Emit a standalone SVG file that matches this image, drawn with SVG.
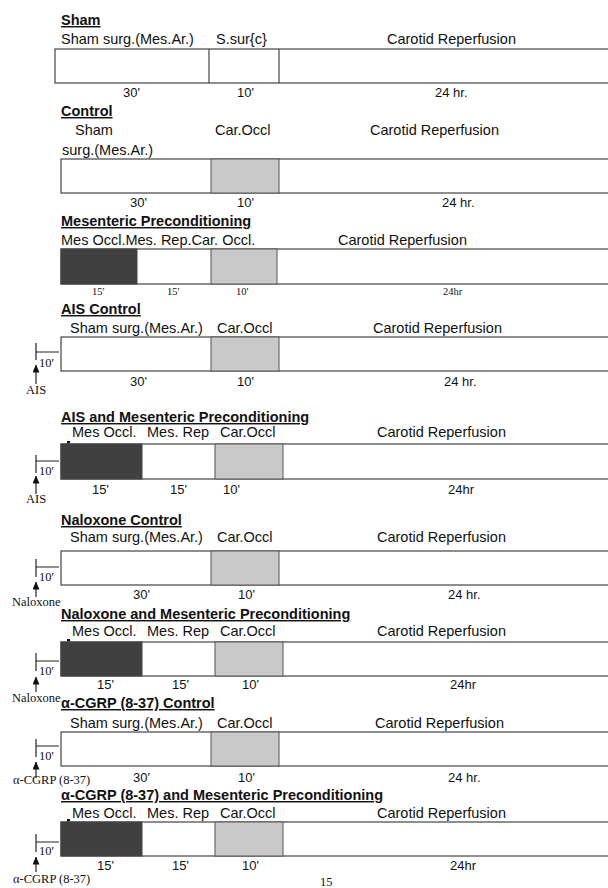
<svg xmlns="http://www.w3.org/2000/svg" width="608" height="888" viewBox="0 0 608 888">
<defs>
<style>
text{fill:#111}
.t{font-family:"Liberation Sans",Arial,sans-serif;font-weight:bold;font-size:14.5px;text-decoration:underline}
.l{font-family:"Liberation Sans",Arial,sans-serif;font-size:14.5px}
.d{font-family:"Liberation Sans",Arial,sans-serif;font-size:13px}
.s{font-family:"Liberation Serif","Times New Roman",serif;font-size:10.5px}
.r{font-family:"Liberation Serif","Times New Roman",serif;font-size:12.5px}
.box{fill:#fff;stroke:#444;stroke-width:1.2}
.dk{fill:#404040;stroke:#444;stroke-width:1}
.gr{fill:#c9c9c9;stroke:#555;stroke-width:1}
.dv{stroke:#444;stroke-width:1.2}
.tk{stroke:#222;stroke-width:1.2;fill:none}
.ar{stroke:#222;stroke-width:1.2;fill:none}
</style>
<marker id="ah" markerWidth="8" markerHeight="7" refX="7.5" refY="3.5" orient="auto" markerUnits="userSpaceOnUse" viewBox="0 0 8 7">
<path d="M0,0 L8,3.5 L0,7 Z" fill="#111"/>
</marker>
</defs>
<rect width="608" height="888" fill="#fff"/>

<g id="sham">
<text class="t" x="61" y="25">Sham</text>
<text class="l" x="61" y="44">Sham surg.(Mes.Ar.)</text>
<text class="l" x="216" y="44">S.sur{c}</text>
<text class="l" x="387" y="44">Carotid Reperfusion</text>
<rect class="box" x="55" y="49" width="560" height="34"/>
<line class="dv" x1="209" y1="49" x2="209" y2="83"/>
<line class="dv" x1="279" y1="49" x2="279" y2="83"/>
<text class="d" x="123" y="97">30'</text>
<text class="d" x="237" y="97">10'</text>
<text class="d" x="435" y="97">24 hr.</text>
</g>

<g id="control">
<text class="t" x="61" y="116">Control</text>
<text class="l" x="75" y="135">Sham</text>
<text class="l" x="62" y="155">surg.(Mes.Ar.)</text>
<text class="l" x="215" y="135">Car.Occl</text>
<text class="l" x="370" y="135">Carotid Reperfusion</text>
<rect class="box" x="61" y="159" width="560" height="34"/>
<rect class="gr" x="211" y="159" width="68" height="34"/>
<text class="d" x="130" y="207">30'</text>
<text class="d" x="237" y="207">10'</text>
<text class="d" x="442" y="207">24 hr.</text>
</g>

<g id="mes-precond">
<text class="t" x="61" y="226">Mesenteric Preconditioning</text>
<text class="l" x="61" y="245">Mes Occl.Mes. Rep.Car. Occl.</text>
<text class="l" x="338" y="245">Carotid Reperfusion</text>
<rect class="box" x="61" y="249" width="560" height="35"/>
<rect class="dk" x="61" y="249" width="76" height="35"/>
<rect class="gr" x="211" y="249" width="66" height="35"/>
<text class="s" x="92" y="295">15'</text>
<text class="s" x="167" y="295">15'</text>
<text class="s" x="236" y="295">10'</text>
<text class="s" x="443" y="295">24hr</text>
</g>

<g id="ais-control">
<text class="t" x="61" y="314">AIS Control</text>
<text class="l" x="70" y="333">Sham surg.(Mes.Ar.)</text>
<text class="l" x="217" y="333">Car.Occl</text>
<text class="l" x="373" y="333">Carotid Reperfusion</text>
<rect class="box" x="61" y="337" width="560" height="34"/>
<rect class="gr" x="211" y="337" width="68" height="34"/>
<text class="d" x="130" y="386">30'</text>
<text class="d" x="237" y="386">10'</text>
<text class="d" x="444" y="386">24 hr.</text>
<path class="tk" d="M36,343 V360 M36,352 H59"/>
<text class="r" x="39" y="367">10'</text>
<text class="r" x="26" y="394">AIS</text>
</g>

<g id="ais-mes-precond">
<text class="t" x="61" y="422">AIS and Mesenteric Preconditioning</text>
<rect x="67" y="441" width="3" height="2.5" fill="#111"/>
<text class="l" x="72" y="437">Mes Occl.</text>
<text class="l" x="147" y="437">Mes. Rep</text>
<text class="l" x="220" y="437">Car.Occl</text>
<text class="l" x="377" y="437">Carotid Reperfusion</text>
<rect class="box" x="61" y="444" width="560" height="35"/>
<rect class="dk" x="61" y="444" width="81" height="35"/>
<rect class="gr" x="215" y="444" width="68" height="35"/>
<text class="d" x="92" y="494">15'</text>
<text class="d" x="170" y="494">15'</text>
<text class="d" x="223" y="494">10'</text>
<text class="d" x="448" y="494">24hr</text>
<path class="tk" d="M36,455 V473 M36,461 H59"/>
<text class="r" x="39" y="475">10'</text>
<text class="r" x="26" y="503">AIS</text>
</g>

<g id="naloxone-control">
<text class="t" x="61" y="525">Naloxone Control</text>
<text class="l" x="70" y="542">Sham surg.(Mes.Ar.)</text>
<text class="l" x="217" y="542">Car.Occl</text>
<text class="l" x="377" y="542">Carotid Reperfusion</text>
<rect class="box" x="61" y="551" width="560" height="34"/>
<rect class="gr" x="211" y="551" width="68" height="34"/>
<text class="d" x="133" y="599">30'</text>
<text class="d" x="238" y="599">10'</text>
<text class="d" x="448" y="599">24 hr.</text>
<path class="tk" d="M36,559 V577 M36,567 H59"/>
<text class="r" x="39" y="581">10'</text>
<text class="r" x="12" y="606">Naloxone</text>
</g>

<g id="naloxone-mes-precond">
<text class="t" x="61" y="619">Naloxone and Mesenteric Preconditioning</text>
<rect x="67" y="639" width="3" height="2.5" fill="#111"/>
<text class="l" x="72" y="636">Mes Occl.</text>
<text class="l" x="147" y="636">Mes. Rep</text>
<text class="l" x="220" y="636">Car.Occl</text>
<text class="l" x="377" y="636">Carotid Reperfusion</text>
<rect class="box" x="61" y="642" width="560" height="34"/>
<rect class="dk" x="61" y="642" width="81" height="34"/>
<rect class="gr" x="215" y="642" width="68" height="34"/>
<text class="d" x="97" y="689">15'</text>
<text class="d" x="172" y="689">15'</text>
<text class="d" x="242" y="689">10'</text>
<text class="d" x="450" y="689">24hr</text>
<path class="tk" d="M36,653 V671 M36,661 H59"/>
<text class="r" x="39" y="675">10'</text>
<text class="r" x="12" y="702">Naloxone</text>
</g>

<g id="cgrp-control">
<text class="t" x="61" y="708">α-CGRP (8-37) Control</text>
<text class="l" x="70" y="728">Sham surg.(Mes.Ar.)</text>
<text class="l" x="217" y="728">Car.Occl</text>
<text class="l" x="375" y="728">Carotid Reperfusion</text>
<rect class="box" x="61" y="732" width="560" height="34"/>
<rect class="gr" x="211" y="732" width="68" height="34"/>
<text class="d" x="133" y="782">30'</text>
<text class="d" x="238" y="782">10'</text>
<text class="d" x="448" y="782">24 hr.</text>
<path class="tk" d="M36,739 V757 M36,746 H59"/>
<text class="r" x="39" y="760">10'</text>
<text class="r" x="13" y="784">α-CGRP (8-37)</text>
</g>

<g id="cgrp-mes-precond">
<text class="t" x="61" y="800">α-CGRP (8-37) and Mesenteric Preconditioning</text>
<rect x="67" y="819" width="3" height="2.5" fill="#111"/>
<text class="l" x="72" y="818">Mes Occl.</text>
<text class="l" x="147" y="818">Mes. Rep</text>
<text class="l" x="220" y="818">Car.Occl</text>
<text class="l" x="377" y="818">Carotid Reperfusion</text>
<rect class="box" x="61" y="822" width="560" height="34"/>
<rect class="dk" x="61" y="822" width="81" height="34"/>
<rect class="gr" x="215" y="822" width="68" height="34"/>
<text class="d" x="97" y="870">15'</text>
<text class="d" x="172" y="870">15'</text>
<text class="d" x="242" y="870">10'</text>
<text class="d" x="450" y="870">24hr</text>
<path class="tk" d="M36,834 V852 M36,842 H59"/>
<text class="r" x="39" y="855">10'</text>
<text class="r" x="13" y="883">α-CGRP (8-37)</text>
</g>

<g id="connectors">
<line class="ar" x1="36" y1="384" x2="36" y2="365" marker-end="url(#ah)"/>
<line class="ar" x1="36" y1="494" x2="36" y2="476" marker-end="url(#ah)"/>
<line class="ar" x1="36" y1="597" x2="36" y2="582" marker-end="url(#ah)"/>
<line class="ar" x1="36" y1="692" x2="36" y2="677" marker-end="url(#ah)"/>
<line class="ar" x1="36" y1="778" x2="36" y2="762" marker-end="url(#ah)"/>
<line class="ar" x1="36" y1="872" x2="36" y2="857" marker-end="url(#ah)"/>
</g>

<text class="r" x="320" y="886">15</text>
</svg>
